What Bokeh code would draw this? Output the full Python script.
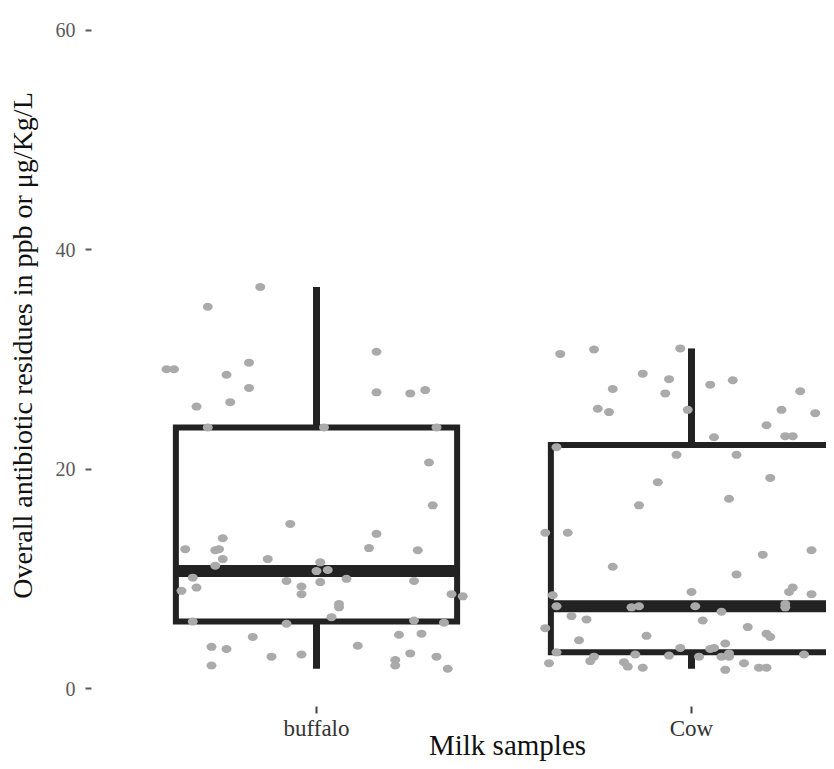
import math
from bokeh.plotting import figure
from bokeh.models import Range1d, FixedTicker, Label, ColumnDataSource, LinearAxis
from bokeh.embed import file_html
from bokeh.resources import INLINE

# ---------------- data ----------------
categories = ["buffalo", "Cow"]

# box statistics
whisker_low = [1.8, 1.8]
q1 = [6.1, 3.3]
median = [10.7, 7.5]
q3 = [23.8, 22.2]
whisker_high = [36.6, 31.0]

# jittered observations (jitter offset in category units, value)
buffalo_jitter = [-0.15, -0.29, -0.40, -0.38, -0.18, -0.24, -0.18, -0.32, -0.23, 0.16,
                  0.16, 0.25, 0.29, -0.29, 0.02, 0.32, 0.30, 0.31, -0.07, 0.16,
                  -0.25, -0.35, -0.27, -0.26, 0.14, 0.27, -0.25, -0.13, -0.27, 0.01,
                  0.00, 0.03, -0.33, -0.08, 0.01, 0.08, 0.26, -0.36, -0.32, -0.04,
                  -0.04, 0.36, 0.39, 0.06, 0.06, 0.04, -0.33, -0.08, 0.26, 0.34,
                  0.22, 0.28, -0.17, -0.28, -0.24, 0.11, -0.12, -0.04, 0.25, 0.32,
                  0.21, 0.21, -0.28, 0.35]
buffalo_values = [36.6, 34.8, 29.1, 29.1, 29.7, 28.6, 27.4, 25.7, 26.1, 30.7,
                  27.0, 26.9, 27.2, 23.8, 23.8, 23.8, 20.6, 16.7, 15.0, 14.1,
                  13.7, 12.7, 12.6, 12.7, 12.8, 12.6, 11.8, 11.8, 11.2, 11.5,
                  10.7, 10.8, 10.1, 9.8, 9.7, 10.0, 9.8, 8.9, 9.2, 9.3,
                  8.6, 8.6, 8.4, 7.7, 7.4, 6.5, 6.1, 5.9, 6.2, 6.0,
                  4.9, 5.0, 4.7, 3.8, 3.6, 3.9, 2.9, 3.1, 3.2, 2.9,
                  2.6, 2.1, 2.1, 1.8]

cow_jitter = [-0.35, -0.26, -0.03, -0.13, -0.06, -0.21, -0.07, 0.05, 0.11, 0.29,
              -0.25, -0.22, -0.01, 0.24, 0.33, 0.38, 0.20, 0.06, 0.25, 0.27,
              -0.36, -0.04, 0.12, 0.21, -0.09, 0.10, -0.14, -0.39, -0.33, -0.21,
              0.19, 0.32, 0.12, 0.27, 0.26, 0.32, 0.00, -0.37, -0.36, -0.16,
              -0.14, 0.01, 0.08, 0.25, 0.25, 0.38, -0.32, -0.28, 0.03, -0.39,
              0.15, 0.20, 0.21, -0.12, -0.30, -0.03, 0.05, 0.06, 0.09, -0.36,
              -0.15, 0.10, 0.30, 0.38, -0.06, 0.02, 0.08, 0.10, -0.38, -0.26,
              -0.27, -0.18, -0.17, -0.13, 0.09, 0.14, 0.18, 0.20]
cow_values = [30.5, 30.9, 31.0, 28.7, 28.2, 27.3, 26.9, 27.7, 28.1, 27.1,
              25.5, 25.2, 25.4, 25.4, 25.1, 24.6, 24.0, 22.9, 23.0, 23.0,
              22.0, 21.3, 21.3, 19.2, 18.8, 17.3, 16.7, 14.2, 14.2, 11.1,
              12.2, 12.6, 10.4, 9.2, 8.8, 8.6, 8.8, 8.5, 7.5, 7.4,
              7.5, 7.5, 7.0, 7.7, 7.4, 7.4, 6.6, 6.3, 6.2, 5.5,
              5.6, 5.0, 4.7, 4.8, 4.4, 3.7, 3.6, 3.7, 4.1, 3.3,
              3.1, 3.2, 3.1, 3.1, 3.0, 2.9, 2.9, 2.9, 2.3, 2.9,
              2.5, 2.4, 2.0, 1.9, 1.7, 2.3, 1.9, 1.9]

y_ticks = [0, 20, 40, 60]
x_title = "Milk samples"
y_title = "Overall antibiotic residues in ppb or \u03bcg/Kg/L"

# ---------------- layout helpers (pixel <-> data) ----------------
SERIF = "Liberation Serif"
BOX_WIDTH = 0.75
W, H = 826, 761
PX_PER_CAT = 375.0          # pixels between category centres
PX_PER_UNIT = 10.97         # pixels per y unit
PANEL_LEFT_PX = 91.0        # left edge of the plotting panel
ZERO_PX = 688.0             # pixel row of y = 0
PANEL_BOTTOM_PX = 706.0     # bottom edge of the plotting panel


def xv(px):
    return 0.4 + (px - PANEL_LEFT_PX) / PX_PER_CAT


def yv(py):
    return (ZERO_PX - py) / PX_PER_UNIT


p = figure(width=W, height=H, output_backend="svg", toolbar_location=None,
           title=None, x_axis_type=None, y_axis_type=None,
           x_range=Range1d(xv(0), xv(W)), y_range=Range1d(yv(H), yv(0)),
           min_border=0)
p.grid.visible = False
p.outline_line_color = None
p.background_fill_color = "white"
p.border_fill_color = "white"

pos = [i + 1 for i in range(len(categories))]

# whiskers
p.segment(x0=pos, y0=q3, x1=pos, y1=whisker_high, line_color="#222222",
          line_width=7, line_cap="butt")
p.segment(x0=pos, y0=q1, x1=pos, y1=whisker_low, line_color="#222222",
          line_width=7, line_cap="butt")

# boxes
left = [c - BOX_WIDTH / 2 for c in pos]
right = [c + BOX_WIDTH / 2 for c in pos]
p.quad(left=left, right=right, bottom=q1, top=q3, fill_color="white",
       line_color="#222222", line_width=6, line_join="miter")

# medians
p.segment(x0=left, y0=median, x1=right, y1=median, line_color="#222222",
          line_width=12, line_cap="butt")

# points
xs = [1 + j for j in buffalo_jitter] + [2 + j for j in cow_jitter]
ys = buffalo_values + cow_values
src = ColumnDataSource(dict(x=xs, y=ys))
p.ellipse(x="x", y="y", width=10, height=8, width_units="screen",
          height_units="screen", source=src, fill_color="#aaaaaa",
          line_color=None)

# axes, fixed at the panel edges
xa = LinearAxis(fixed_location=yv(PANEL_BOTTOM_PX))
xa.ticker = FixedTicker(ticks=pos)
xa.major_label_overrides = {c: name for c, name in zip(pos, categories)}
xa.axis_line_color = None
xa.major_tick_in = 0
xa.major_tick_out = 7
xa.major_tick_line_color = "#444444"
xa.major_tick_line_width = 2
xa.minor_tick_line_color = None
xa.major_label_text_font = SERIF
xa.major_label_text_font_size = "23px"
xa.major_label_text_color = "#333333"
xa.major_label_standoff = 2
p.add_layout(xa, "below")

ya = LinearAxis(fixed_location=0.4)
ya.ticker = FixedTicker(ticks=y_ticks)
ya.axis_line_color = None
ya.major_tick_in = 0
ya.major_tick_out = 6
ya.major_tick_line_color = "#5a5a5a"
ya.major_tick_line_width = 2
ya.minor_tick_line_color = None
ya.major_label_text_font = SERIF
ya.major_label_text_font_size = "20px"
ya.major_label_text_color = "#5a5a5a"
ya.major_label_standoff = 10
p.add_layout(ya, "left")

# axis titles (centred on the full panel, as in the original)
p.add_layout(Label(x=xv(507), y=yv(760), text=x_title, text_font=SERIF,
                   text_font_size="29px", text_color="#111111",
                   text_align="center", text_baseline="bottom"))
p.add_layout(Label(x=xv(22), y=yv(345), text=y_title, text_font=SERIF,
                   text_font_size="28px", text_color="#111111",
                   text_align="center", text_baseline="middle",
                   angle=math.pi / 2))

open("out.html", "w").write(file_html(p, INLINE))
